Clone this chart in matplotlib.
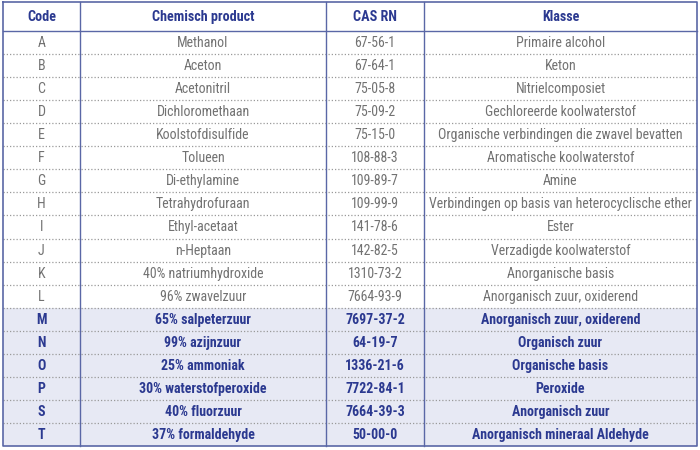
import matplotlib
matplotlib.use("Agg")
import matplotlib.pyplot as plt

plt.rcParams["font.family"] = ["Roboto Condensed", "Roboto", "DejaVu Sans"]

HEADERS = ["Code", "Chemisch product", "CAS RN", "Klasse"]
CODES = ["A", "B", "C", "D", "E", "F", "G", "H", "I", "J", "K", "L",
         "M", "N", "O", "P", "S", "T"]
PRODUCTS = ["Methanol", "Aceton", "Acetonitril", "Dichloromethaan",
            "Koolstofdisulfide", "Tolueen", "Di-ethylamine", "Tetrahydrofuraan",
            "Ethyl-acetaat", "n-Heptaan", "40% natriumhydroxide", "96% zwavelzuur",
            "65% salpeterzuur", "99% azijnzuur", "25% ammoniak",
            "30% waterstofperoxide", "40% fluorzuur", "37% formaldehyde"]
CAS = ["67-56-1", "67-64-1", "75-05-8", "75-09-2", "75-15-0", "108-88-3",
       "109-89-7", "109-99-9", "141-78-6", "142-82-5", "1310-73-2", "7664-93-9",
       "7697-37-2", "64-19-7", "1336-21-6", "7722-84-1", "7664-39-3", "50-00-0"]
KLASSE = ["Primaire alcohol", "Keton", "Nitrielcomposiet",
          "Gechloreerde koolwaterstof", "Organische verbindingen die zwavel bevatten",
          "Aromatische koolwaterstof", "Amine",
          "Verbindingen op basis van heterocyclische ether", "Ester",
          "Verzadigde koolwaterstof", "Anorganische basis",
          "Anorganisch zuur, oxiderend", "Anorganisch zuur, oxiderend",
          "Organisch zuur", "Organische basis", "Peroxide", "Anorganisch zuur",
          "Anorganisch mineraal Aldehyde"]
HIGHLIGHT = ["M", "N", "O", "P", "S", "T"]

BORDER = "#5a67a6"
NAVY = "#2b3990"
GRAY = "#727272"
BAND = "#e7e9f4"

# layout in pixels (figure is 700x450)
COLS = [3, 80, 326, 424, 697]
TOP, HEAD_BOT, BOT = 2, 31, 446


def main():
    fig = plt.figure(figsize=(7, 4.5), dpi=100)
    ax = fig.add_axes([0, 0, 1, 1])
    ax.set_xlim(0, 700); ax.set_ylim(450, 0); ax.axis("off")

    n = len(CODES)
    rh = (BOT - HEAD_BOT) / n
    centers = [(COLS[i] + COLS[i + 1]) / 2 for i in range(4)]

    for j, h in enumerate(HEADERS):
        ax.text(centers[j], (TOP + HEAD_BOT) / 2 + 0.5, h, ha="center", va="center",
                fontsize=10.2, fontweight="bold", color=NAVY)

    for i, code in enumerate(CODES):
        y0 = HEAD_BOT + i * rh
        bold = code in HIGHLIGHT
        if bold:
            ax.fill_between([COLS[0], COLS[-1]], y0, y0 + rh, color=BAND, lw=0, zorder=0)
        row = [code, PRODUCTS[i], CAS[i], KLASSE[i]]
        for j, val in enumerate(row):
            ax.text(centers[j], y0 + rh / 2 + 0.5, val, ha="center", va="center",
                    fontsize=10, fontweight="bold" if bold else "normal",
                    color=NAVY if bold else GRAY)
        if i < n - 1:
            ax.plot([COLS[0], COLS[-1]], [y0 + rh] * 2, color="#9a9a9a", lw=0.9,
                    ls=(0, (1, 1.6)), zorder=1)

    ax.plot([COLS[0], COLS[-1]], [HEAD_BOT] * 2, color=BORDER, lw=1.0, zorder=2)
    for x in COLS[1:-1]:
        ax.plot([x, x], [TOP, BOT], color=BORDER, lw=1.0, zorder=2)
    ax.plot([COLS[0], COLS[-1], COLS[-1], COLS[0], COLS[0]],
            [TOP, TOP, BOT, BOT, TOP], color=BORDER, lw=1.2, zorder=2)

    fig.savefig("out.png", dpi=100)


if __name__ == "__main__":
    main()
